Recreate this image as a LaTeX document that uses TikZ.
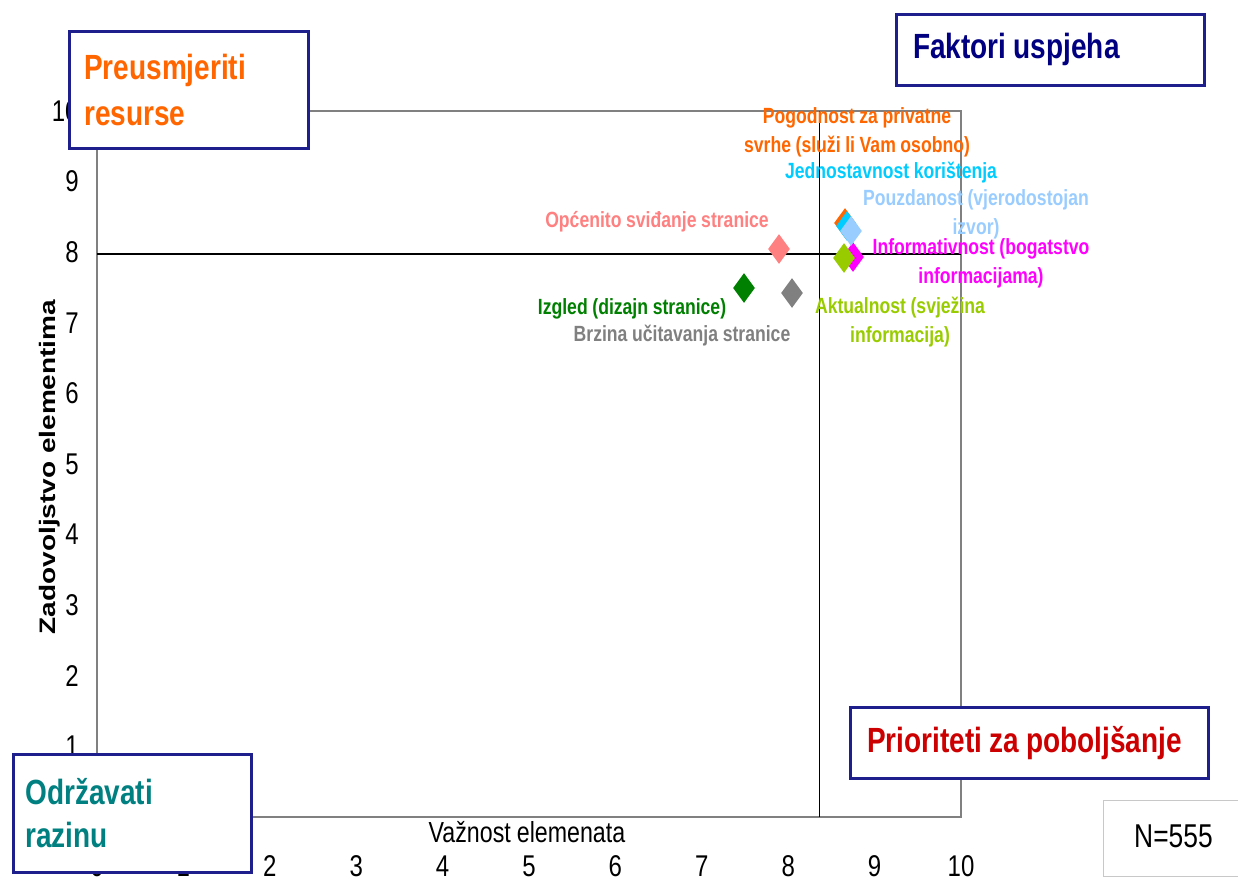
\documentclass[tikz,border=0pt]{standalone}
\usepackage{fontspec}
\setmainfont{Liberation Sans}[FakeStretch=0.8]
\newfontfamily\plainsans{Liberation Sans}
\usetikzlibrary{shapes.geometric}
\definecolor{boxnavy}{RGB}{30,30,140}
\definecolor{ttnavy}{RGB}{0,0,128}
\definecolor{orng}{RGB}{255,102,0}
\definecolor{dred}{RGB}{204,0,0}
\definecolor{teal2}{RGB}{0,128,128}
\definecolor{pinkc}{RGB}{255,128,128}
\definecolor{dgreen}{RGB}{0,128,0}
\definecolor{grayc}{RGB}{128,128,128}
\definecolor{cyanc}{RGB}{0,204,255}
\definecolor{lblue}{RGB}{153,204,255}
\definecolor{magc}{RGB}{255,0,255}
\definecolor{ygreen}{RGB}{153,204,0}
\definecolor{framegray}{RGB}{128,128,128}
\definecolor{nboxgray}{RGB}{200,200,200}
\newcommand\tightsp{\spaceskip=0.21em plus 0.05em minus 0.05em\relax}
\begin{document}
\begin{tikzpicture}[x=0.5pt,y=-0.5pt,
  qbox/.style={draw=boxnavy, line width=1.25pt, fill=white, inner ysep=0pt, inner xsep=7.5pt, anchor=north west, align=left, font=\bfseries\fontsize{17.5}{23}\selectfont\tightsp},
  lbl/.style={font=\bfseries\fontsize{11}{14.5}\selectfont\tightsp, align=center, inner sep=0pt},
  mk/.style={diamond, minimum width=11pt, minimum height=15pt, inner sep=0pt, aspect=0.73},
  ytick/.style={anchor=east, inner sep=0pt, font=\fontsize{15}{18}\selectfont},
  xtick/.style={anchor=center, inner sep=0pt, font=\fontsize{15}{18}\selectfont}]
\useasboundingbox (0,0) rectangle (1238,878);
% frame
\coordinate (fTL) at (97,111);
\coordinate (fBR) at (961,817);
\draw[framegray, line width=0.6pt] (fTL) rectangle (fBR);
% quadrant lines
\coordinate (hL) at (97,254);
\coordinate (hR) at (961,254);
\coordinate (vT) at (819,111);
\coordinate (vB) at (819,817);
\draw[black, line width=0.75pt] (hL) -- (hR);
\draw[black, line width=0.5pt] (vT) -- (vB);
% y tick labels
\foreach \v in {1,...,10} {
  \node[ytick] (yt\v) at (79,{817-70.6*\v}) {\v};
}
% x tick labels
\foreach \v in {0,...,10} {
  \node[xtick] (xt\v) at ({97+86.4*\v},866) {\v};
}
% axis titles
\node[inner sep=0pt, font=\fontsize{14.5}{17}\selectfont\tightsp] (xtitle) at (527,832) {Važnost elemenata};
\node[inner sep=0pt, rotate=90] (ytitle) at (50,467) {\scalebox{1}[0.8]{\plainsans\bfseries\fontsize{14}{17}\selectfont Zadovoljstvo elementima}};
% diamonds
\node[mk, fill=orng] (d1) at (845,223) {};
\node[mk, fill=cyanc] (d2) at (847,226) {};
\node[mk, fill=magc] (d5) at (853,257) {};
\node[mk, fill=lblue] (d3) at (851,231) {};
\node[mk, fill=ygreen] (d4) at (844,258) {};
\node[mk, fill=pinkc] (d6) at (779,249) {};
\node[mk, fill=dgreen] (d7) at (744,288) {};
\node[mk, fill=grayc] (d8) at (792,293) {};
% data labels
\node[lbl, text=orng] (l1) at (857,132) {Pogodnost za privatne\\svrhe (služi li Vam osobno)};
\node[lbl, text=cyanc] (l2) at (891,173) {Jednostavnost korištenja};
\node[lbl, text=lblue] (l3) at (976,214) {Pouzdanost (vjerodostojan\\izvor)};
\node[lbl, text=magc] (l5) at (981,263) {Informativnost (bogatstvo\\informacijama)};
\node[lbl, text=ygreen] (l4) at (900,322) {Aktualnost (svježina\\informacija)};
\node[lbl, text=pinkc] (l6) at (657,222) {Općenito sviđanje stranice};
\node[lbl, text=dgreen] (l7) at (632,309) {Izgled (dizajn stranice)};
\node[lbl, text=grayc] (l8) at (682,336) {Brzina učitavanja stranice};
% quadrant boxes
\node[qbox, minimum width=119.5pt, minimum height=58.5pt, text=orng] (bPre) at (68,30) {\makebox[104.5pt][l]{Preusmjeriti}\\resurse};
\node[qbox, minimum width=154pt, minimum height=35.5pt, inner xsep=8.5pt, text=ttnavy] (bFak) at (895,13) {\makebox[137pt][l]{Faktori\hspace{3.6pt}uspjeha}};
\node[qbox, minimum width=179pt, minimum height=35.5pt, inner xsep=8.5pt, text=dred] (bPri) at (849,706) {\makebox[162pt][l]{Prioriteti\hspace{3.6pt}za\hspace{3.6pt}poboljšanje}};
\node[qbox, minimum width=119pt, minimum height=59pt, inner xsep=6pt, text=teal2, font=\bfseries\fontsize{17.5}{21.5}\selectfont] (bOdr) at (12,753) {\makebox[107pt][l]{Održavati}\\razinu};
% N box
\node[draw=nboxgray, line width=0.5pt, fill=white, anchor=north west, minimum width=70pt, minimum height=38pt, inner sep=0pt, font=\fontsize{16.5}{20}\selectfont] (nbox) at (1103,800) {\raisebox{2.5pt}{N=555}};
\end{tikzpicture}
\end{document}
